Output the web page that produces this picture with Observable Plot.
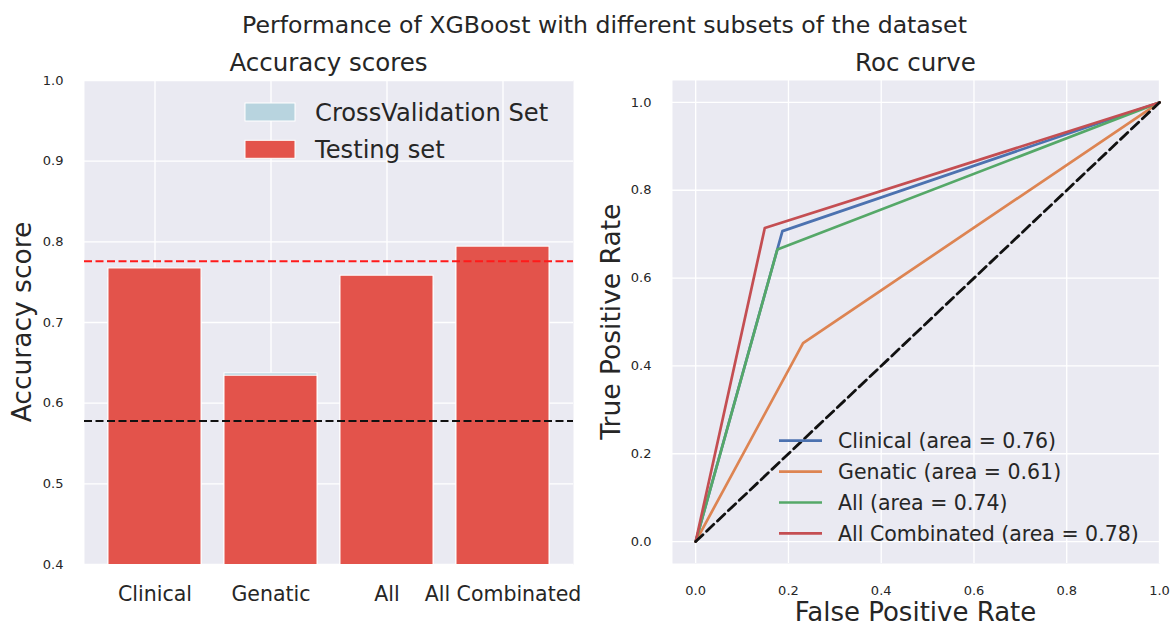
<!DOCTYPE html>
<html>
<head>
<meta charset="utf-8">
<script src="https://cdn.jsdelivr.net/npm/d3@7"></script>
<script src="https://cdn.jsdelivr.net/npm/@observablehq/plot@0.6"></script>
<style>
  html, body { margin: 0; padding: 0; background: #ffffff; }
  #wrap { position: relative; width: 1172px; height: 626px; overflow: hidden; font-family: "DejaVu Sans", sans-serif; }
  #left, #right, #overlay { position: absolute; top: 0; }
  #left { left: 0; }
  #right { left: 600px; }
  #overlay { left: 0; pointer-events: none; }
</style>
</head>
<body>
<div id="wrap">
  <div id="left"></div>
  <div id="right"></div>
  <svg id="overlay" width="1172" height="626"></svg>
</div>
<script>
// ---------------- data ----------------
const categories = ["Clinical", "Genatic", "All", "All Combinated"];
const testScores = [0.767, 0.634, 0.758, 0.794];
const cvScores = [0.755, 0.637, 0.745, 0.780];
const accTicks = [0.4, 0.5, 0.6, 0.7, 0.8, 0.9, 1.0];
const redLineValue = [0.776];
const blackLineValue = [0.578];
const legendLeft = ["CrossValidation Set", "Testing set"];

const rocSeries = ["Clinical", "Genatic", "All", "All Combinated"];
const rocFpr = [[0, 0.187, 1], [0, 0.2315, 1], [0, 0.176, 1], [0, 0.149, 1]];
const rocTpr = [[0, 0.707, 1], [0, 0.452, 1], [0, 0.665, 1], [0, 0.714, 1]];
const rocAuc = [0.76, 0.61, 0.74, 0.78];
const rocTicks = [0, 0.2, 0.4, 0.6, 0.8, 1.0];
const chanceX = [0, 1];
const chanceY = [0, 1];

// ---------------- styles ----------------
const BG = "#eaeaf2";
const TXT = "#262626";
const RED = "#e3534b";
const CV = "#b8d4df";
const rocColors = ["#4c72b0", "#dd8452", "#55a868", "#c44e52"];

const barData = categories.map((c, i) => ({cat: c, test: testScores[i], cv: cvScores[i]}));
const rocData = rocSeries.flatMap((s, i) => rocFpr[i].map((f, j) => ({series: s, fpr: f, tpr: rocTpr[i][j]})));
const chanceData = chanceX.map((x, i) => ({x, y: chanceY[i]}));

const left = Plot.plot({
  width: 600, height: 626,
  marginLeft: 84, marginRight: 27, marginTop: 80, marginBottom: 62,
  style: {fontFamily: "DejaVu Sans", background: "transparent", color: TXT, overflow: "visible"},
  x: {domain: categories, paddingInner: 0.2, paddingOuter: 0.19, label: null},
  y: {domain: [accTicks[0], accTicks[accTicks.length - 1]], label: null},
  marks: [
    Plot.frame({fill: BG, stroke: null}),
    Plot.gridY(accTicks, {stroke: "white", strokeOpacity: 1, strokeWidth: 1.3}),
    Plot.gridX(categories, {stroke: "white", strokeOpacity: 1, strokeWidth: 1.3}),
    Plot.barY(barData, {x: "cat", y: "cv", fill: CV, stroke: "white", strokeWidth: 1, clip: true}),
    Plot.barY(barData, {x: "cat", y: "test", fill: RED, stroke: "white", strokeWidth: 1, clip: true}),
    Plot.ruleY(redLineValue, {stroke: "#ff1a1a", strokeWidth: 2, strokeDasharray: "8,3.5"}),
    Plot.ruleY(blackLineValue, {stroke: "#111", strokeWidth: 2, strokeDasharray: "8,3.5"}),
    Plot.axisX({tickSize: 0, tickPadding: 22, fontSize: 20.5, label: null, fill: TXT}),
    Plot.axisY(accTicks, {tickSize: 0, tickPadding: 21, fontSize: 13, tickFormat: ".1f", label: null, fill: TXT})
  ]
});
document.getElementById("left").appendChild(left);

const right = Plot.plot({
  width: 572, height: 626,
  marginLeft: 72, marginRight: 13, marginTop: 80, marginBottom: 63,
  style: {fontFamily: "DejaVu Sans", background: "transparent", color: TXT, overflow: "visible"},
  x: {domain: [-0.05, 1.0], label: null},
  y: {domain: [-0.05, 1.05], label: null},
  color: {domain: rocSeries, range: rocColors},
  marks: [
    Plot.frame({fill: BG, stroke: null}),
    Plot.gridY(rocTicks, {stroke: "white", strokeOpacity: 1, strokeWidth: 1.3}),
    Plot.gridX(rocTicks, {stroke: "white", strokeOpacity: 1, strokeWidth: 1.3}),
    Plot.line(rocData, {x: "fpr", y: "tpr", z: "series", stroke: "series", strokeWidth: 2.7}),
    Plot.line(chanceData, {x: "x", y: "y", stroke: "#111", strokeWidth: 2.8, strokeDasharray: "10,5"}),
    Plot.axisX(rocTicks, {tickSize: 0, tickPadding: 22, fontSize: 13, tickFormat: ".1f", label: null, fill: TXT}),
    Plot.axisY(rocTicks, {tickSize: 0, tickPadding: 21, fontSize: 13, tickFormat: ".1f", label: null, fill: TXT})
  ]
});
document.getElementById("right").appendChild(right);

// ---------------- titles, labels, legends ----------------
const ov = d3.select("#overlay").style("font-family", "DejaVu Sans").attr("fill", TXT);
ov.append("text").attr("x", 604.5).attr("y", 33).attr("text-anchor", "middle").attr("font-size", 23.6)
  .text("Performance of XGBoost with different subsets of the dataset");
ov.append("text").attr("x", 328.5).attr("y", 70.5).attr("text-anchor", "middle").attr("font-size", 24.5)
  .text("Accuracy scores");
ov.append("text").attr("x", 915.5).attr("y", 70.5).attr("text-anchor", "middle").attr("font-size", 24.5)
  .text("Roc curve");
ov.append("text").attr("transform", "translate(31,322) rotate(-90)").attr("text-anchor", "middle").attr("font-size", 26.5)
  .text("Accuracy score");
ov.append("text").attr("transform", "translate(620,321.7) rotate(-90)").attr("text-anchor", "middle").attr("font-size", 26.5)
  .text("True Positive Rate");
ov.append("text").attr("x", 915.5).attr("y", 621).attr("text-anchor", "middle").attr("font-size", 26)
  .text("False Positive Rate");

// left legend
const legColors = [CV, RED];
legendLeft.forEach((name, i) => {
  const cy = 112 + i * 37.3;
  ov.append("rect").attr("x", 245).attr("y", cy - 9).attr("width", 50).attr("height", 18)
    .attr("fill", legColors[i]).attr("stroke", "white").attr("stroke-width", 1);
  ov.append("text").attr("x", 315).attr("y", cy).attr("dy", "0.36em").attr("font-size", 24.2).text(name);
});

// right legend
rocSeries.forEach((s, i) => {
  const cy = 440.7 + i * 30.9;
  ov.append("line").attr("x1", 779).attr("x2", 822).attr("y1", cy).attr("y2", cy)
    .attr("stroke", rocColors[i]).attr("stroke-width", 2.7);
  ov.append("text").attr("x", 838).attr("y", cy).attr("dy", "0.36em").attr("font-size", 20.5)
    .text(`${s} (area = ${rocAuc[i].toFixed(2)})`);
});
</script>
</body>
</html>
